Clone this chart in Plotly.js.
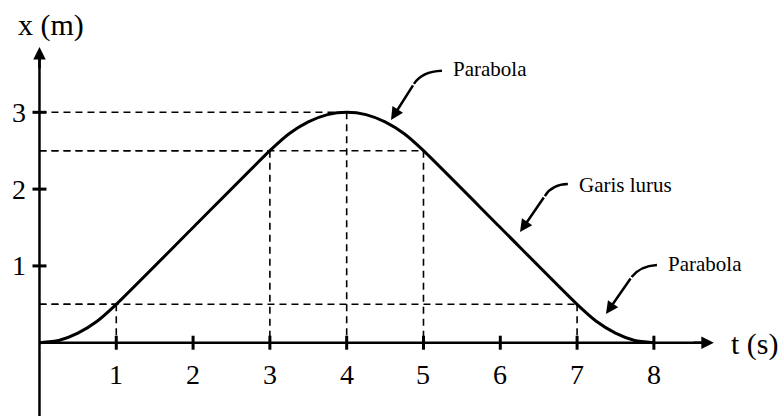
<!DOCTYPE html>
<html>
<head>
<meta charset="utf-8">
<script src="https://cdn.plot.ly/plotly-3.0.1.min.js"></script>
<style>
  html, body { margin: 0; padding: 0; background: #ffffff; }
  #chart { width: 778px; height: 416px; }
</style>
</head>
<body>
<div id="chart"></div>
<script>
// Position–time graph: x (m) against t (s)
const tValues = [0, 0.25, 0.5, 0.75, 1, 2, 3, 3.25, 3.5, 3.75, 4, 4.25, 4.5, 4.75, 5, 6, 7, 7.25, 7.5, 7.75, 8];
const xValues = [0, 0.03, 0.125, 0.28, 0.5, 1.5, 2.5, 2.72, 2.875, 2.97, 3, 2.97, 2.875, 2.72, 2.5, 1.5, 0.5, 0.28, 0.125, 0.03, 0];

// Points marked with dashed guide lines to both axes
const keyT = [1, 3, 4, 5, 7];
const keyX = [0.5, 2.5, 3, 2.5, 0.5];

// Axis ticks and their labels
const tTicks = [1, 2, 3, 4, 5, 6, 7, 8];
const tTickLabels = ['1', '2', '3', '4', '5', '6', '7', '8'];
const xTicks = [1, 2, 3];
const xTickLabels = ['1', '2', '3'];

// Callout labels
const calloutTexts = ['Parabola', 'Garis lurus', 'Parabola'];

const serif = 'Liberation Serif, Times New Roman, serif';
const ink = '#000000';

// Data ranges chosen so that one unit on each axis has the same length
const tRange = [-0.514, 9.616];
const xRange = [-0.954, 4.462];

const traces = [];

// Dashed guides: horizontal to the x-axis and vertical to the t-axis
keyT.forEach((t, i) => {
  const x = keyX[i];
  traces.push({
    x: [0, t], y: [x, x], mode: 'lines', hoverinfo: 'skip',
    line: { color: ink, width: 1.6, dash: '7px,5px' }
  });
  traces.push({
    x: [t, t], y: [x, 0], mode: 'lines', hoverinfo: 'skip',
    line: { color: ink, width: 1.6, dash: '7px,5px' }
  });
});

// Position curve
traces.push({
  x: tValues, y: xValues, mode: 'lines', hoverinfo: 'skip',
  line: { color: ink, width: 3, shape: 'spline', smoothing: 0.6 }
});

// Tick marks crossing the axes
traces.push({
  x: tTicks, y: tTicks.map(() => 0), mode: 'markers', hoverinfo: 'skip',
  marker: { symbol: 'line-ns', size: 10, line: { color: ink, width: 3 } }
});
traces.push({
  x: xTicks.map(() => 0), y: xTicks, mode: 'markers', hoverinfo: 'skip',
  marker: { symbol: 'line-ew', size: 10, line: { color: ink, width: 3 } }
});

const shapes = [
  // axis lines
  { type: 'line', xref: 'x', yref: 'y', x0: 0, y0: 0, x1: 8.7, y1: 0, line: { color: ink, width: 2.5 } },
  { type: 'line', xref: 'x', yref: 'y', x0: 0, y0: -1.2, x1: 0, y1: 3.77, line: { color: ink, width: 2.5 } },
  // curved tails of the callout arrows
  { type: 'path', xref: 'x', yref: 'y', path: 'M 5.24,3.54 Q 4.98,3.53 4.876,3.37', line: { color: ink, width: 2.5 } },
  { type: 'path', xref: 'x', yref: 'y', path: 'M 6.88,2.066 Q 6.67,2.06 6.58,1.91', line: { color: ink, width: 2.5 } },
  { type: 'path', xref: 'x', yref: 'y', path: 'M 8.04,1.012 Q 7.82,1.0 7.71,0.855', line: { color: ink, width: 2.5 } }
];

const annotations = [];

// axis arrowheads
annotations.push({ x: 8.78, y: 0, ax: 8.5, ay: 0, xref: 'x', yref: 'y', axref: 'x', ayref: 'y',
  text: '', showarrow: true, arrowhead: 2, arrowsize: 1, arrowwidth: 2.5, arrowcolor: ink });
annotations.push({ x: 0, y: 3.85, ax: 0, ay: 3.55, xref: 'x', yref: 'y', axref: 'x', ayref: 'y',
  text: '', showarrow: true, arrowhead: 2, arrowsize: 1, arrowwidth: 2.5, arrowcolor: ink });

// straight heads of the callout arrows
[[4.876, 3.37, 4.577, 2.90], [6.58, 1.91, 6.257, 1.44], [7.71, 0.855, 7.376, 0.374]].forEach(a => {
  annotations.push({ ax: a[0], ay: a[1], x: a[2], y: a[3], xref: 'x', yref: 'y', axref: 'x', ayref: 'y',
    text: '', showarrow: true, arrowhead: 2, arrowsize: 1, arrowwidth: 2.5, arrowcolor: ink, standoff: 0, startstandoff: 0 });
});

// callout texts
[[5.36, 3.57], [7.0, 2.05], [8.16, 1.03]].forEach((p, i) => {
  annotations.push({ x: p[0], y: p[1], xref: 'x', yref: 'y', xanchor: 'left', yanchor: 'middle',
    text: calloutTexts[i], showarrow: false, font: { family: serif, size: 21, color: ink } });
});

// tick labels
tTicks.forEach((t, i) => {
  annotations.push({ x: t, y: -0.42, xref: 'x', yref: 'y', xanchor: 'center', yanchor: 'middle',
    text: tTickLabels[i], showarrow: false, font: { family: serif, size: 28, color: ink } });
});
xTicks.forEach((x, i) => {
  annotations.push({ x: -0.15, y: x, xref: 'x', yref: 'y', xanchor: 'right', yanchor: 'middle',
    text: xTickLabels[i], showarrow: false, font: { family: serif, size: 28, color: ink } });
});

// axis titles
annotations.push({ x: -0.3, y: 4.14, xref: 'x', yref: 'y', xanchor: 'left', yanchor: 'middle',
  text: 'x (m)', showarrow: false, font: { family: serif, size: 30, color: ink } });
annotations.push({ x: 8.98, y: -0.02, xref: 'x', yref: 'y', xanchor: 'left', yanchor: 'middle',
  text: 't (s)', showarrow: false, font: { family: serif, size: 30, color: ink } });

const layout = {
  width: 778, height: 416,
  margin: { l: 0, r: 0, t: 0, b: 0, pad: 0 },
  paper_bgcolor: '#ffffff', plot_bgcolor: '#ffffff',
  font: { family: serif, color: ink },
  showlegend: false,
  xaxis: { range: tRange, showgrid: false, zeroline: false, showticklabels: false, ticks: '', showline: false, fixedrange: true },
  yaxis: { range: xRange, showgrid: false, zeroline: false, showticklabels: false, ticks: '', showline: false, fixedrange: true },
  shapes: shapes,
  annotations: annotations
};

Plotly.newPlot('chart', traces, layout, { staticPlot: true, displayModeBar: false });
</script>
</body>
</html>
